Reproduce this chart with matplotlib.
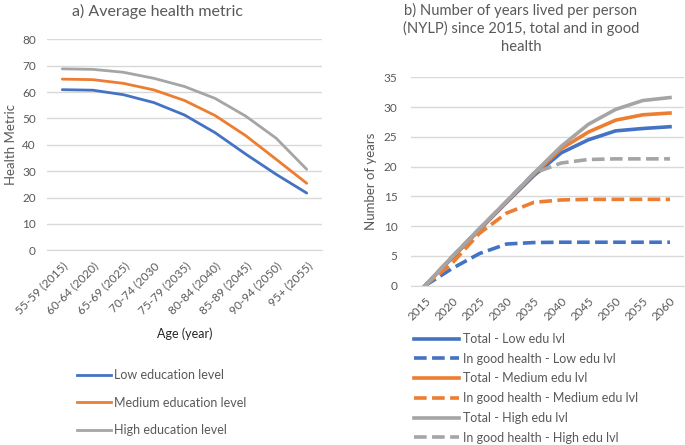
import matplotlib
matplotlib.use("Agg")
import matplotlib.pyplot as plt
from matplotlib.lines import Line2D

plt.rcParams['font.family'] = ['Lato', 'DejaVu Sans']

# ---- data panel a ----
age_groups = ["55-59 (2015)", "60-64 (2020)", "65-69 (2025)", "70-74 (2030",
              "75-79 (2035)", "80-84 (2040)", "85-89 (2045)", "90-94 (2050)", "95+ (2055)"]
low_metric = [60.9, 60.7, 59.0, 56.0, 51.3, 44.6, 36.5, 28.8, 21.7]
med_metric = [64.9, 64.7, 63.3, 60.8, 56.8, 51.1, 43.5, 34.5, 25.4]
high_metric = [68.8, 68.6, 67.5, 65.2, 62.1, 57.6, 50.9, 42.5, 30.7]
a_yticks = [0, 10, 20, 30, 40, 50, 60, 70, 80]

# ---- data panel b ----
years = ["2015", "2020", "2025", "2030", "2035", "2040", "2045", "2050", "2055", "2060"]
total_low = [0, 4.7, 9.4, 14.0, 18.5, 22.3, 24.5, 26.0, 26.4, 26.7]
good_low = [0, 2.9, 5.4, 7.0, 7.25, 7.3, 7.3, 7.3, 7.3, 7.3]
total_med = [0, 4.8, 9.5, 14.1, 18.7, 23.0, 25.8, 27.8, 28.7, 29.0]
good_med = [0, 3.8, 8.8, 12.2, 14.0, 14.4, 14.5, 14.5, 14.5, 14.5]
total_high = [0, 4.9, 9.6, 14.2, 18.9, 23.4, 27.1, 29.6, 31.1, 31.6]
good_high = [0, 4.9, 9.6, 14.2, 18.9, 20.6, 21.2, 21.3, 21.3, 21.3]
b_yticks = [0, 5, 10, 15, 20, 25, 30, 35]

BLUE = "#4472C4"
ORANGE = "#ED7D31"
GRAY = "#A5A5A5"
GRID = "#D9D9D9"
TXT = "#595959"

W, H = 685, 445
fig = plt.figure(figsize=(W / 100, H / 100), dpi=100)

def px_axes(l, t, r, b):
    return fig.add_axes([l / W, 1 - b / H, (r - l) / W, (b - t) / H])

def style(ax):
    for s in ax.spines.values():
        s.set_visible(False)
    ax.spines['bottom'].set_visible(True)
    ax.spines['bottom'].set_color(GRID)
    ax.grid(axis='y', color=GRID, lw=1.0)
    ax.set_axisbelow(True)
    ax.tick_params(length=0, colors=TXT, labelsize=8.5)

# ---- panel a ----
axa = px_axes(47, 39.3, 322, 250.3)
style(axa)
xa = list(range(len(age_groups)))
axa.plot(xa, low_metric, color=BLUE, lw=2.0, solid_capstyle='round')
axa.plot(xa, med_metric, color=ORANGE, lw=2.0, solid_capstyle='round')
axa.plot(xa, high_metric, color=GRAY, lw=2.0, solid_capstyle='round')
axa.set_xlim(-0.5, len(age_groups) - 0.5)
axa.set_ylim(0, 80)
axa.set_yticks(a_yticks)
axa.set_xticks(xa)
axa.set_xticklabels(age_groups, rotation=45, ha='right', va='top', rotation_mode='anchor')
axa.tick_params(axis='x', pad=7)
axa.tick_params(axis='y', pad=8)
axa.set_ylabel("Health Metric", fontsize=9.5, color=TXT, labelpad=4)
fig.text(185 / W, 1 - 334 / H, "Age (year)", ha='center', va='center', fontsize=9, color="#262626")
fig.text(158 / W, 1 - 11 / H, "a) Average health metric", ha='center', va='center', fontsize=11.5, color=TXT)

leg_a = [Line2D([], [], color=c, lw=2.0) for c in (BLUE, ORANGE, GRAY)]
fig.legend(leg_a, ["Low education level", "Medium education level", "High education level"],
           loc='upper left', bbox_to_anchor=(77 / W, 1 - 369 / H), frameon=False,
           fontsize=9, labelcolor=TXT, handlelength=2.7, handletextpad=0.3,
           labelspacing=1.25, borderpad=0, borderaxespad=0)

# ---- panel b ----
axb = px_axes(411.4, 77.3, 683.6, 285.7)
style(axb)
xb = list(range(len(years)))
dash = (0, (3.5, 1.5))
lwb = 2.6
axb.plot(xb, total_low, color=BLUE, lw=lwb)
axb.plot(xb, good_low, color=BLUE, lw=lwb, linestyle=dash)
axb.plot(xb, total_med, color=ORANGE, lw=lwb)
axb.plot(xb, good_med, color=ORANGE, lw=lwb, linestyle=dash)
axb.plot(xb, good_high, color=GRAY, lw=lwb, linestyle=dash)
axb.plot(xb, total_high, color=GRAY, lw=lwb)
axb.set_xlim(-0.5, len(years) - 0.5)
axb.set_ylim(0, 35)
axb.set_yticks(b_yticks)
axb.set_xticks(xb)
axb.set_xticklabels(years, rotation=45, ha='right', va='top', rotation_mode='anchor')
axb.tick_params(axis='x', pad=7)
axb.tick_params(axis='y', pad=10)
axb.set_ylabel("Number of years", fontsize=9.5, color=TXT, labelpad=5)
fig.text(521 / W, 1 - 28 / H,
         "b) Number of years lived per person\n(NYLP) since 2015, total and in good\nhealth",
         ha='center', va='center', fontsize=10.6, color=TXT, linespacing=1.3)

leg_b = [Line2D([], [], color=BLUE, lw=lwb), Line2D([], [], color=BLUE, lw=lwb, linestyle=dash),
         Line2D([], [], color=ORANGE, lw=lwb), Line2D([], [], color=ORANGE, lw=lwb, linestyle=dash),
         Line2D([], [], color=GRAY, lw=lwb), Line2D([], [], color=GRAY, lw=lwb, linestyle=dash)]
fig.legend(leg_b, ["Total - Low edu lvl", "In good health - Low edu lvl",
                   "Total - Medium edu lvl", "In good health - Medium edu lvl",
                   "Total - High edu lvl", "In good health - High edu lvl"],
           loc='upper left', bbox_to_anchor=(414 / W, 1 - 333 / H), frameon=False,
           fontsize=9, labelcolor=TXT, handlelength=3.6, handletextpad=0.35,
           labelspacing=0.62, borderpad=0, borderaxespad=0)

fig.savefig("out.png", dpi=100)
